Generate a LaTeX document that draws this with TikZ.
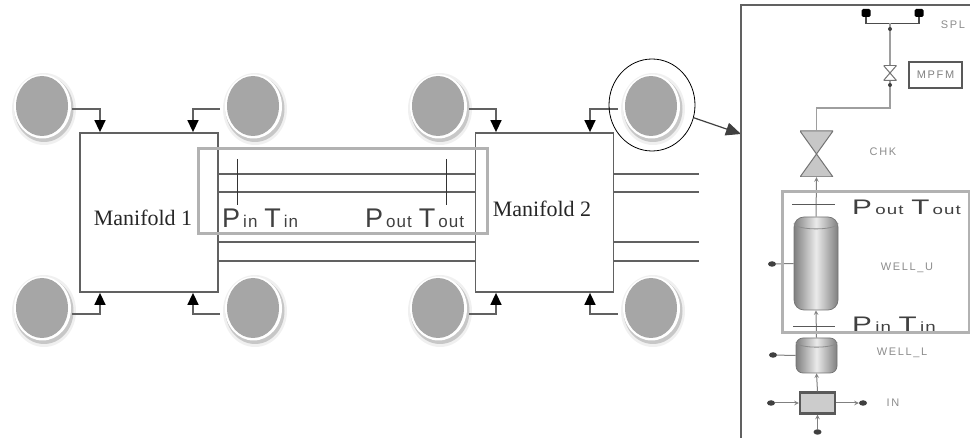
\documentclass[tikz,border=0pt]{standalone}
\usepackage{fontspec}
\setmainfont{Liberation Serif}
\setsansfont{Liberation Sans}
\newfontfamily\gaugefont[LetterSpace=6]{Liberation Sans}
\newfontfamily\tagfont[LetterSpace=15]{Liberation Sans}
\usetikzlibrary{shapes.geometric,arrows.meta}
\newcommand{\gauge}[2]{{\gaugefont\fontsize{27}{29}\selectfont #1\hspace{3pt}\fontsize{17}{19}\selectfont #2}}
\newcommand{\gaugepair}[2]{\gauge{P}{#1}\hspace{7pt}\gauge{T}{#2}}
\definecolor{linegray}{gray}{0.38}
\definecolor{diskgray}{gray}{0.65}
\tikzset{
  >=stealth,
  well/.style={ellipse, fill=diskgray, inner sep=0pt, minimum width=52, minimum height=60},
  manifold/.style={draw=linegray, line width=1.8pt, fill=white, inner sep=0pt, minimum width=138, minimum height=159},
  feed/.style={draw=linegray, line width=1.5pt, -{Stealth[length=12pt,width=11pt,inset=0pt,color=black]}},
  pipe/.style={draw=linegray, line width=1.4pt},
  zone/.style={draw=black!30, line width=3pt, inner sep=0pt},
  mlabel/.style={inner sep=0pt, font=\fontsize{22}{24}\selectfont, text=black!85},
  riser/.style={draw=black!38, line width=1.8pt},
  feedsmall/.style={draw=black!50, line width=1pt, ->},
  tag/.style={inner sep=0pt, font=\tagfont\fontsize{11}{12}\selectfont, text=black!45},
  cylbody/.style={rounded corners=10pt, draw=black!55, line width=0.7pt, inner sep=0pt, left color=black!50, right color=black!50, middle color=black!8},
  valve/.style={inner sep=0pt, path picture={
    \draw[fill=#1, draw=black!55, line width=1pt]
      (path picture bounding box.north west) -- (path picture bounding box.north east)
      -- (path picture bounding box.south west) -- (path picture bounding box.south east) -- cycle;}},
  ball/.style={ellipse, fill=black!75, inner sep=0pt, minimum width=8, minimum height=5.5},
  tipdot/.style={circle, fill=black!75, inner sep=0pt, minimum size=4},
  term/.style={rectangle, rounded corners=1.5pt, fill=black, inner sep=0pt, minimum width=9, minimum height=8},
}
\begin{document}
\begin{tikzpicture}[x=1pt, y=-1pt]
  \useasboundingbox (0,0) rectangle (970,438);

  % wells with their halo
  \foreach \wname/\wx/\wy in {wA/42/106, wB/253/106, wC/42/308, wD/253/308, wE/438/106, wF/651/106, wG/438/308, wH/651/308}{
    \fill[black!6] (\wx+2,\wy+3) ellipse (32 and 36);
    \fill[black!22] (\wx+2,\wy+3) ellipse (29.5 and 33);
    \fill[white] (\wx+0.5,\wy+0.5) ellipse (28.5 and 32);
    \node[well] (\wname) at (\wx,\wy) {};
  }

  % manifolds
  \node[manifold] (manA) at (149,212.5) {};
  \node[manifold] (manB) at (544.5,212.5) {};
  \node[mlabel] (labA) at (143,218) {Manifold 1};
  \node[mlabel] (labB) at (542,209) {Manifold 2};

  % feeds into the manifolds
  \draw[feed] ([shift={(4,3)}]wA.east) -| (manA.north -| 100,0);
  \draw[feed] ([shift={(-7,3)}]wB.west) -| (manA.north -| 193,0);
  \draw[feed] ([shift={(4,6)}]wC.east) -| (manA.south -| 100,0);
  \draw[feed] ([shift={(-7,6)}]wD.west) -| (manA.south -| 193,0);
  \draw[feed] ([shift={(5,3)}]wE.east) -| (manB.north -| 496,0);
  \draw[feed] ([shift={(-7,3)}]wF.west) -| (manB.north -| 590,0);
  \draw[feed] ([shift={(5,6)}]wG.east) -| (manB.south -| 496,0);
  \draw[feed] ([shift={(-7,6)}]wH.west) -| (manB.south -| 590,0);

  % pipelines
  \foreach \py in {174,192,242,261}{
    \draw[pipe] (manA.east |- 0,\py) -- (manB.west |- 0,\py);
    \draw[pipe] (manB.east |- 0,\py) -- (699,\py);
  }
  \draw[line width=1pt, black!80] (237,159) -- (237,205);
  \draw[line width=1pt, black!80] (446,159) -- (446,205);
  \node[zone, minimum width=289, minimum height=85] (zoneA) at (342.5,191.5) {};
  \node[inner sep=0pt, anchor=base west, text=black!75] (pinA) at (222,228) {\gaugepair{in}{in}};
  \node[inner sep=0pt, anchor=base west, text=black!75] (poutA) at (365,228) {\gaugepair{out}{out}};

  % lens and pointer to the inset
  \node[draw, ellipse, line width=0.8pt, inner sep=0pt, minimum width=86, minimum height=92] (lens) at (652,105) {};
  \coordinate (inset) at (741,134);
  \draw[line width=1.2pt, black!75, -{Stealth[length=15pt,width=13pt,inset=0pt]}] (lens.-17) -- (inset);

  % inset
  \draw[line width=1.5pt, black!62] (741,438) -- (741,5) -- (970,5);

  \node[term] (termA) at (866,13) {};
  \node[term] (termB) at (919,13) {};
  \draw[line width=1.1pt, black!70] (termA.south) -- ++(0,6) -| (termB.south);
  \coordinate (spl) at (890,23);
  \node[valve=white, minimum width=13, minimum height=15] (mv) at (890,73) {};
  \node[valve=black!22, minimum width=33, minimum height=46] (chk) at (816.5,154) {};
  \draw[riser] (mv.north) -- (spl);
  \draw[riser] (chk.north) -- ++(0,-23) -| (mv.south);
  \node[tipdot] (tipA) at (890,29) {};
  \node[tipdot] (tipB) at (890,85) {};
  \node[draw=black!65, line width=1.2pt, inner sep=0pt, minimum width=53, minimum height=26, font=\tagfont\fontsize{11}{12}\selectfont, text=black!50] (mpfm) at (935.5,75) {MPFM};
  \node[tag] (tagspl) at (953,25) {SPL};
  \node[tag] (tagchk) at (883,152) {CHK};
  \node[tag] (tagu) at (907,268) {WELL\_U};
  \node[tag] (tagl) at (902,353) {WELL\_L};
  \node[tag] (tagin) at (893,403) {IN};

  \node[cylbody, minimum width=44, minimum height=93] (wellU) at (816,263.5) {};
  \draw[black!45, line width=0.8pt] ([yshift=-7pt]wellU.north west) .. controls +(4,7) and ([shift={(-4,14)}]wellU.north east) .. ([yshift=-7pt]wellU.north east);
  \node[cylbody, minimum width=41, minimum height=35, rounded corners=7pt] (wellL) at (816.5,355.5) {};
  \draw[black!45, line width=0.8pt] ([yshift=-5pt]wellL.north west) .. controls +(4,6) and ([shift={(-4,11)}]wellL.north east) .. ([yshift=-5pt]wellL.north east);
  \node[draw=black!65, line width=2.4pt, fill=black!20, inner sep=0pt, minimum width=35, minimum height=21] (inbox) at (817.5,403) {};

  \node[ball] (ballU) at (772,264) {};
  \node[ball] (ballL) at (773,355) {};
  \node[ball] (ballW) at (771,403) {};
  \node[ball] (ballE) at (863,403) {};
  \node[ball] (ballS) at (817.5,432) {};
  \draw[black!50, line width=1pt] (ballU) -- (wellU.west);
  \draw[black!50, line width=1pt] (ballL) -- (wellL.west);
  \draw[feedsmall] (ballW) -- (inbox.west);
  \draw[feedsmall] (inbox.east) -- (ballE);
  \draw[feedsmall] (ballS) -- (inbox.south);
  \draw[feedsmall] (inbox.north) -- (wellL.south);
  \draw[feedsmall] (wellL.north) -- (wellU.south);
  \draw[feedsmall] (wellU.north) -- (chk.south);

  % gauges at the inset
  \draw[line width=1pt, black!65] (792,205) -- (835,205);
  \draw[line width=1pt, black!65] (793,327) -- (835,327);
  \node[zone, minimum width=187, minimum height=141] (zoneB) at (875.5,262.5) {};
  \node[inner sep=0pt, anchor=base west, text=black!75] (poutB) at (852,215) {\scalebox{1.1}[0.78]{\gaugepair{out}{out}}};
  \node[inner sep=0pt, anchor=base west, text=black!75] (pinB) at (852,331.5) {\scalebox{1.1}[0.78]{\gaugepair{in}{in}}};
\end{tikzpicture}
\end{document}
